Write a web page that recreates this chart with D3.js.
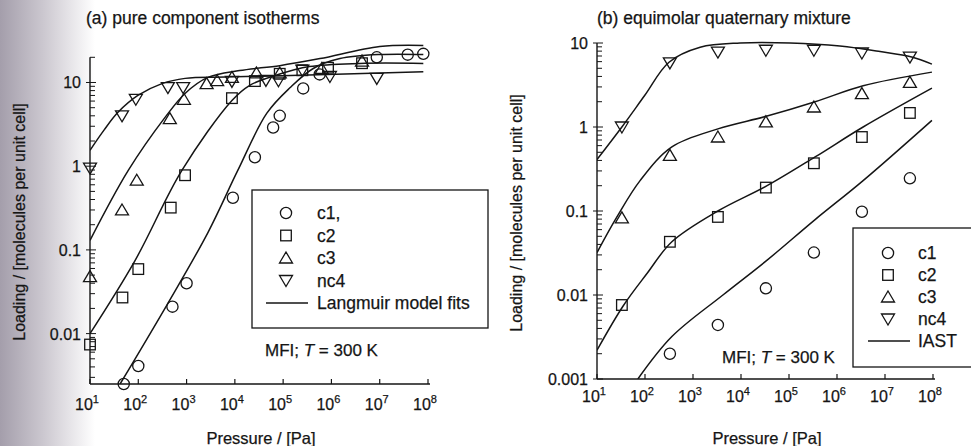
<!DOCTYPE html>
<html>
<head>
<meta charset="utf-8">
<script src="https://cdn.jsdelivr.net/npm/d3@7"></script>
<style>
  body { margin: 0; background: #fff; }
  svg { display: block; font-family: "Liberation Sans", Arial, sans-serif; }
  svg text { stroke: #151515; stroke-width: 0.25; }
</style>
</head>
<body>
<div id="container"></div>
<script>
// ---- (a) pure component isotherms: simulated points
const pureC1P = [50, 100, 510, 1000, 9100, 2.6e4, 6.2e4, 8.5e4, 2.6e5, 5.7e5, 8.7e6, 3.8e7, 8e7];
const pureC1L = [0.0025, 0.0041, 0.021, 0.04, 0.42, 1.28, 2.9, 4.0, 8.5, 12.5, 20, 21.5, 22];
const pureC2P = [10, 47, 100, 470, 930, 8700, 2.6e4, 8.5e4, 2.5e5, 8.5e5, 4.3e6];
const pureC2L = [0.0074, 0.027, 0.059, 0.32, 0.78, 6.5, 10.4, 12.7, 14, 15, 17];
const pureC3P = [10, 46, 93, 450, 880, 2600, 4300, 8700, 2.8e4, 8.5e4, 6.3e5, 4.3e6];
const pureC3L = [0.048, 0.3, 0.68, 3.7, 6.3, 9.7, 10.5, 11.5, 13, 13, 14.7, 18];
const pureC4P = [10, 46, 89, 410, 850, 8700, 4.4e4, 8e4, 2.5e5, 9.3e5, 8.7e6];
const pureC4L = [0.95, 4.0, 6.3, 8.7, 8.7, 10.3, 10.6, 10.5, 14, 11.8, 11.2];

// ---- (a) Langmuir model fits
const fitC1P = [42, 410, 2750, 1.15e4, 4.6e4, 1.4e5, 4.2e5, 1.5e6, 1e7, 8e7];
const fitC1L = [0.0025, 0.023, 0.16, 0.89, 4.3, 8.7, 14.7, 19.3, 21.6, 21.6];
const fitC2P = [10, 85, 800, 8700, 2e4, 6.8e4, 3.5e5, 3.9e6, 8e7];
const fitC2L = [0.01, 0.074, 0.89, 6.1, 9.2, 12.1, 15.5, 16.9, 16.9];
const fitC3P = [10, 62, 355, 930, 2750, 1.25e4, 8.5e4, 5.8e5, 1e7, 8e7];
const fitC3L = [0.13, 0.89, 3.8, 7.4, 11.5, 13.9, 15.9, 19.3, 26.9, 27.7];
const fitC4P = [10, 19.5, 38, 98, 309, 933, 6300, 2.2e5, 8e7];
const fitC4L = [1.55, 2.7, 4.4, 7.0, 9.7, 11.2, 11.6, 12.2, 13.4];

// ---- (b) equimolar quaternary mixture: simulated points
const mixP = [33, 330, 3300, 3.3e4, 3.3e5, 3.3e6, 3.3e7];
const mixC1L = [null, 0.002, 0.0044, 0.012, 0.032, 0.098, 0.245];
const mixC2L = [0.0076, 0.043, 0.085, 0.19, 0.37, 0.76, 1.47];
const mixC3L = [0.083, 0.46, 0.76, 1.15, 1.73, 2.5, 3.4];
const mixC4L = [1.0, 5.8, 7.8, 8.2, 8.2, 7.6, 6.8];

// ---- (b) IAST predictions
const iastC1P = [71, 363, 4200, 3.5e4, 3.5e5, 3.5e6, 9.5e7];
const iastC1L = [0.001, 0.0032, 0.01, 0.026, 0.079, 0.23, 1.2];
const iastC2P = [10, 35, 110, 363, 3300, 3.5e4, 3.5e5, 3.5e6, 9.5e7];
const iastC2L = [0.0022, 0.0074, 0.018, 0.043, 0.1, 0.2, 0.44, 1.0, 2.9];
const iastC3P = [10, 26, 79, 363, 3300, 3.5e4, 3.5e5, 3.5e6, 9.5e7];
const iastC3L = [0.032, 0.085, 0.23, 0.58, 0.95, 1.35, 2.0, 3.1, 4.5];
const iastC4P = [10, 33, 100, 316, 1410, 9550, 1.05e5, 1.15e6, 7.9e6, 3.6e7, 9.5e7];
const iastC4L = [0.41, 1.0, 2.4, 5.9, 8.9, 10, 10, 9.2, 7.9, 6.8, 5.6];

const xTickExps = [1, 2, 3, 4, 5, 6, 7, 8];
const legendA = ["c1,", "c2", "c3", "nc4", "Langmuir model fits"];
const legendB = ["c1", "c2", "c3", "nc4", "IAST"];
const symbols = ["circle", "square", "up", "down"];

const ink = "#151515";
const width = 971, height = 446;

const svg = d3.select("#container").append("svg")
  .attr("width", width).attr("height", height)
  .attr("viewBox", [0, 0, width, height]);

// scanned page edge on the left
const grad = svg.append("defs").append("linearGradient").attr("id", "edge");
grad.append("stop").attr("offset", "0%").attr("stop-color", "#a49eab");
grad.append("stop").attr("offset", "45%").attr("stop-color", "#cbc7cf");
grad.append("stop").attr("offset", "100%").attr("stop-color", "#ffffff");
svg.append("rect").attr("x", 0).attr("y", 0).attr("width", 95).attr("height", height)
  .attr("fill", "url(#edge)");

function marker(g, type, x, y) {
  const s = 5.3;
  let el;
  if (type === "circle") {
    el = g.append("circle").attr("cx", x).attr("cy", y).attr("r", s + 0.3);
  } else if (type === "square") {
    el = g.append("rect").attr("x", x - s).attr("y", y - s).attr("width", 2 * s).attr("height", 2 * s);
  } else if (type === "up") {
    el = g.append("path").attr("d", `M${x},${y - 6}L${x + 6.5},${y + 5}L${x - 6.5},${y + 5}Z`);
  } else {
    el = g.append("path").attr("d", `M${x},${y + 6}L${x + 6.5},${y - 5}L${x - 6.5},${y - 5}Z`);
  }
  el.attr("fill", "none").attr("stroke", ink).attr("stroke-width", 1.3);
}

function panel(opt) {
  const g = svg.append("g");
  const x = d3.scaleLog().domain([10, 1e8]).range(opt.xRange);
  const y = d3.scaleLog().domain(opt.yDomain).range(opt.yRange);

  // axes lines
  g.append("line").attr("x1", x.range()[0]).attr("x2", x.range()[1] + 2)
    .attr("y1", y.range()[0]).attr("y2", y.range()[0]).attr("stroke", ink).attr("stroke-width", 1.4);
  g.append("line").attr("x1", x.range()[0]).attr("x2", x.range()[0])
    .attr("y1", y.range()[0]).attr("y2", y.range()[1]).attr("stroke", ink).attr("stroke-width", 1.4);

  // x ticks
  xTickExps.forEach(e => {
    const px = x(Math.pow(10, e));
    g.append("line").attr("x1", px).attr("x2", px).attr("y1", y.range()[0]).attr("y2", y.range()[0] - 5)
      .attr("stroke", ink).attr("stroke-width", 1.2);
    const t = g.append("text").attr("x", px - 3).attr("y", opt.xLabelY).attr("text-anchor", "middle")
      .attr("font-size", 16).attr("fill", ink).text("10");
    t.append("tspan").attr("dy", -7).attr("font-size", 11).text(e);
  });

  // y ticks (major + minor)
  const lo = Math.floor(Math.log10(opt.yDomain[0])), hi = Math.ceil(Math.log10(opt.yDomain[1]));
  for (let e = lo; e <= hi; e++) {
    for (let m = 1; m <= 9; m++) {
      const v = m * Math.pow(10, e);
      if (v < opt.yDomain[0] * 0.999 || v > opt.yDomain[1] * 1.001) continue;
      const py = y(v);
      g.append("line").attr("x1", x.range()[0] - (m === 1 ? 4 : 0)).attr("x2", x.range()[0] + (m === 1 ? 6 : 5))
        .attr("y1", py).attr("y2", py).attr("stroke", ink).attr("stroke-width", 1);
    }
  }
  opt.yLabels.forEach(v => {
    g.append("text").attr("x", x.range()[0] - 9).attr("y", y(v) + 6).attr("text-anchor", "end")
      .attr("font-size", 16).attr("fill", ink).text(String(v));
  });

  // titles
  g.append("text").attr("x", opt.titleX).attr("y", 24).attr("font-size", 17.5).attr("fill", ink).text(opt.title);
  g.append("text").attr("transform", `translate(${opt.yTitleX},${opt.yTitleY}) rotate(-90)`)
    .attr("text-anchor", "middle").attr("font-size", 16).attr("fill", ink)
    .text("Loading / [molecules per unit cell]");
  g.append("text").attr("x", opt.xTitleX).attr("y", 444).attr("text-anchor", "middle")
    .attr("font-size", 16.5).attr("fill", ink).text("Pressure / [Pa]");

  // fitted lines
  const line = d3.line().curve(d3.curveCatmullRom.alpha(0.5)).x(d => x(d[0])).y(d => y(d[1]));
  const clip = "clip" + opt.id;
  g.append("clipPath").attr("id", clip).append("rect")
    .attr("x", x.range()[0]).attr("y", 0).attr("width", x.range()[1] - x.range()[0] + 5).attr("height", y.range()[0]);
  opt.lines.forEach(([ps, ls]) => {
    g.append("path").datum(d3.zip(ps, ls)).attr("clip-path", `url(#${clip})`)
      .attr("d", line).attr("fill", "none").attr("stroke", ink).attr("stroke-width", 1.5);
  });

  // points
  opt.points.forEach(([ps, ls], i) => {
    ps.forEach((p, j) => {
      if (ls[j] == null) return;
      marker(g, symbols[i], x(p), y(ls[j]));
    });
  });

  // legend
  const lg = g.append("g");
  lg.append("rect").attr("x", opt.legend.x).attr("y", opt.legend.y).attr("width", opt.legend.w).attr("height", opt.legend.h)
    .attr("fill", "#fff").attr("stroke", ink).attr("stroke-width", 1.3);
  opt.legend.labels.forEach((lab, i) => {
    const cy = opt.legend.y + opt.legend.first + i * opt.legend.step;
    if (i < 4) {
      marker(lg, symbols[i], opt.legend.symX, cy);
    } else {
      lg.append("line").attr("x1", opt.legend.symX - 20).attr("x2", opt.legend.symX + 22)
        .attr("y1", cy).attr("y2", cy).attr("stroke", ink).attr("stroke-width", 1.5);
    }
    lg.append("text").attr("x", opt.legend.textX).attr("y", cy + 6).attr("font-size", 17.5)
      .attr("fill", ink).text(lab);
  });

  const mfi = g.append("text").attr("x", opt.mfi[0]).attr("y", opt.mfi[1]).attr("font-size", 17).attr("fill", ink);
  mfi.append("tspan").text("MFI; ");
  mfi.append("tspan").attr("font-style", "italic").text("T");
  mfi.append("tspan").text(" = 300 K");
}

panel({
  id: "a",
  xRange: [90, 428], yDomain: [0.0025, 20], yRange: [384, 57.3],
  yLabels: [0.01, 0.1, 1, 10], xLabelY: 410,
  title: "(a) pure component isotherms", titleX: 86,
  yTitleX: 25, yTitleY: 222, xTitleX: 261,
  lines: [[fitC1P, fitC1L], [fitC2P, fitC2L], [fitC3P, fitC3L], [fitC4P, fitC4L]],
  points: [[pureC1P, pureC1L], [pureC2P, pureC2L], [pureC3P, pureC3L], [pureC4P, pureC4L]],
  legend: { x: 252, y: 190, w: 236, h: 138, first: 23, step: 22.5, symX: 286, textX: 317, labels: legendA },
  mfi: [265, 356]
});

panel({
  id: "b",
  xRange: [597, 933], yDomain: [0.001, 10], yRange: [379, 43],
  yLabels: [0.001, 0.01, 0.1, 1, 10], xLabelY: 402,
  title: "(b) equimolar quaternary mixture", titleX: 597,
  yTitleX: 522, yTitleY: 213, xTitleX: 767,
  lines: [[iastC1P, iastC1L], [iastC2P, iastC2L], [iastC3P, iastC3L], [iastC4P, iastC4L]],
  points: [[mixP, mixC1L], [mixP, mixC2L], [mixP, mixC3L], [mixP, mixC4L]],
  legend: { x: 853, y: 228, w: 130, h: 139, first: 25, step: 22, symX: 888, textX: 918, labels: legendB },
  mfi: [722, 363]
});
</script>
</body>
</html>
